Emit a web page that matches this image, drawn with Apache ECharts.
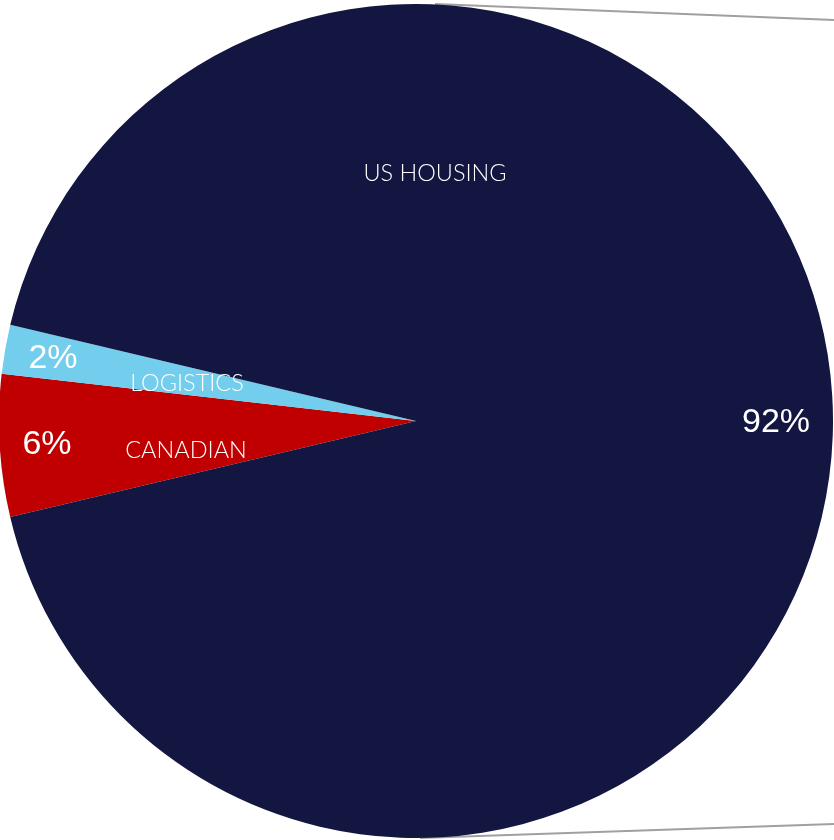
<!DOCTYPE html>
<html>
<head>
<meta charset="utf-8">
<title>Segments</title>
<script src="https://cdn.jsdelivr.net/npm/echarts@6/dist/echarts.min.js"></script>
<style>
  html, body { margin: 0; padding: 0; background: #fff; }
  #chart { width: 834px; height: 840px; }
</style>
</head>
<body>
<div id="chart"></div>
<script>
// slice order follows the picture, clockwise from the lower left edge
const segments = ['CANADIAN', 'LOGISTICS', 'US HOUSING']
const shares = [5.5, 1.9, 92.6]
const shareLabels = ['6%', '2%', '92%']
const colors = ['#c00000', '#73cdec', '#121640']

// hand placed label spots (Excel style)
const pctSpots = [[47, 445], [53, 359], [776, 423]]
const nameSpots = [[186, 450], [187, 383], [435, 173]]

const chart = echarts.init(document.getElementById('chart'))

const pieData = segments.map((name, i) => ({
  name: name,
  value: shares[i],
  itemStyle: { color: colors[i] }
}))

const pieBase = {
  type: 'pie',
  center: [416, 421],
  radius: [0, 417],
  startAngle: 193.3,
  clockwise: true,
  avoidLabelOverlap: false,
  labelLine: { show: false },
  emphasis: { disabled: true },
  animation: false
}

function placeAt(spots) {
  return function (params) {
    const p = spots[params.dataIndex]
    return { x: p[0], y: p[1], align: 'center', verticalAlign: 'middle' }
  }
}

chart.setOption({
  backgroundColor: '#fff',
  graphic: [
    {
      type: 'line',
      z: -1,
      shape: { x1: 435, y1: 4, x2: 834, y2: 20 },
      style: { stroke: '#a0a0a0', lineWidth: 2 }
    },
    {
      type: 'line',
      z: -1,
      shape: { x1: 420, y1: 838, x2: 834, y2: 824 },
      style: { stroke: '#a0a0a0', lineWidth: 2 }
    }
  ],
  series: [
    Object.assign({}, pieBase, {
      name: 'share',
      data: pieData,
      itemStyle: { borderWidth: 0 },
      label: {
        show: true,
        position: 'inside',
        formatter: p => shareLabels[p.dataIndex],
        color: '#fff',
        fontFamily: 'Liberation Sans, Arial, sans-serif',
        fontSize: 34
      },
      labelLayout: placeAt(pctSpots)
    }),
    Object.assign({}, pieBase, {
      name: 'names',
      silent: true,
      data: pieData.map(d => ({ name: d.name, value: d.value })),
      itemStyle: { color: 'transparent', borderWidth: 0 },
      label: {
        show: true,
        position: 'inside',
        formatter: '{b}',
        color: '#fff',
        fontFamily: 'Lato, sans-serif',
        fontWeight: 300,
        fontSize: 23.5
      },
      labelLayout: placeAt(nameSpots)
    })
  ]
})
</script>
</body>
</html>
